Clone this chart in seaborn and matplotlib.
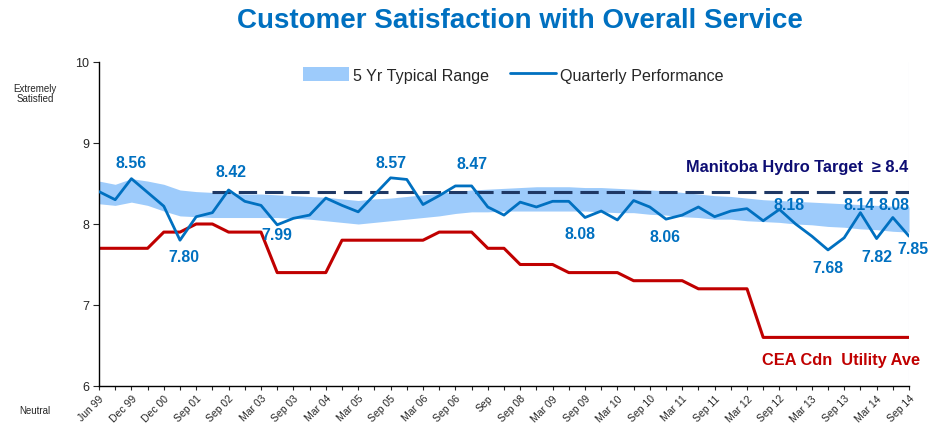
import numpy as np
import pandas as pd
import matplotlib
matplotlib.use('Agg')
import matplotlib.pyplot as plt
from matplotlib.patches import Patch
from matplotlib.lines import Line2D
import seaborn as sns

# --- data ---
period_labels = ['Jun 99', '', 'Dec 99', '', 'Dec 00', '', 'Sep 01', '', 'Sep 02', '',
                 'Mar 03', '', 'Sep 03', '', 'Mar 04', '', 'Mar 05', '', 'Sep 05', '',
                 'Mar 06', '', 'Sep 06', '', 'Sep', '', 'Sep 08', '', 'Mar 09', '',
                 'Sep 09', '', 'Mar 10', '', 'Sep 10', '', 'Mar 11', '', 'Sep 11', '',
                 'Mar 12', '', 'Sep 12', '', 'Mar 13', '', 'Sep 13', '', 'Mar 14', '',
                 'Sep 14']

quarterly = [8.40, 8.30, 8.56, 8.39, 8.22, 7.80, 8.09, 8.14, 8.42, 8.28,
             8.23, 7.99, 8.07, 8.11, 8.32, 8.23, 8.15, 8.36, 8.57, 8.55,
             8.24, 8.35, 8.47, 8.47, 8.21, 8.11, 8.27, 8.21, 8.28, 8.28,
             8.08, 8.16, 8.05, 8.29, 8.21, 8.06, 8.11, 8.21, 8.09, 8.16,
             8.19, 8.04, 8.18, 8.00, 7.85, 7.68, 7.83, 8.14, 7.82, 8.08,
             7.85]

cea_avg = [7.7, 7.7, 7.7, 7.7, 7.9, 7.9, 8.0, 8.0, 7.9, 7.9,
           7.9, 7.4, 7.4, 7.4, 7.4, 7.8, 7.8, 7.8, 7.8, 7.8,
           7.8, 7.9, 7.9, 7.9, 7.7, 7.7, 7.5, 7.5, 7.5, 7.4,
           7.4, 7.4, 7.4, 7.3, 7.3, 7.3, 7.3, 7.2, 7.2, 7.2,
           7.2, 6.6, 6.6, 6.6, 6.6, 6.6, 6.6, 6.6, 6.6, 6.6,
           6.6]

range_high = [8.53, 8.49, 8.56, 8.53, 8.49, 8.42, 8.40, 8.39, 8.38, 8.37,
              8.37, 8.36, 8.35, 8.34, 8.33, 8.31, 8.29, 8.31, 8.32, 8.34,
              8.36, 8.38, 8.40, 8.42, 8.43, 8.44, 8.45, 8.46, 8.46, 8.46,
              8.45, 8.45, 8.44, 8.43, 8.42, 8.41, 8.39, 8.37, 8.35, 8.34,
              8.32, 8.30, 8.29, 8.28, 8.27, 8.26, 8.25, 8.24, 8.23, 8.22,
              8.21]

range_low = [8.25, 8.23, 8.27, 8.23, 8.16, 8.10, 8.09, 8.08, 8.08, 8.08,
             8.08, 8.08, 8.07, 8.06, 8.04, 8.02, 8.00, 8.02, 8.04, 8.06,
             8.08, 8.10, 8.13, 8.15, 8.15, 8.16, 8.16, 8.16, 8.16, 8.16,
             8.16, 8.15, 8.14, 8.14, 8.12, 8.11, 8.09, 8.08, 8.06, 8.06,
             8.04, 8.03, 8.02, 8.00, 7.99, 7.97, 7.96, 7.94, 7.93, 7.91,
             7.90]

target = 8.4
target_start = 7   # index where the target line begins

# points that carry a value label
label_idx = [2, 5, 8, 11, 18, 23, 30, 35, 42, 45, 47, 48, 49, 50]

df = pd.DataFrame({'idx': np.arange(len(quarterly)),
                   'quarterly': quarterly, 'cea': cea_avg,
                   'hi': range_high, 'lo': range_low})

# --- style ---
sns.set_theme(style='white')
plt.rcParams['font.family'] = ['Liberation Sans', 'DejaVu Sans']

BLUE = '#0070C0'
BAND = '#9DCBFB'
RED = '#C00000'
NAVY = '#1F3864'

fig = plt.figure(figsize=(9.32, 4.31), dpi=100)
ax = fig.add_axes([99 / 932, 1 - 387 / 431, 810 / 932, 324 / 431])

ax.fill_between(df['idx'], df['lo'], df['hi'], color=BAND, lw=0, zorder=1)
sns.lineplot(data=df, x='idx', y='cea', ax=ax, color=RED, lw=2.2, zorder=2)
ax.plot([target_start, len(quarterly) - 1], [target, target], color=NAVY,
        lw=2.2, dashes=(6, 2.6), zorder=3)
sns.lineplot(data=df, x='idx', y='quarterly', ax=ax, color=BLUE, lw=2.0, zorder=4)
ax.axvline(len(quarterly) - 1, color='#dbe5f1', lw=0.8, zorder=0)

# value labels (pixel offsets from the point)
offsets = {2: (0, 16), 5: (4, -16), 8: (2, 18), 11: (0, -10), 18: (0, 15),
           23: (0, 22), 30: (-5, -16), 35: (-1, -17), 42: (10, 5), 45: (0, -18),
           47: (-1, 8), 48: (0, -18), 49: (1, 13), 50: (4, -12)}
for i in label_idx:
    dx, dy = offsets[i]
    ax.annotate(f'{quarterly[i]:.2f}', (i, quarterly[i]), xytext=(dx, dy),
                textcoords='offset pixels', ha='center', va='center',
                fontsize=11.4, fontweight='bold', color=BLUE, zorder=5)

ax.set_xlim(0, len(quarterly) - 1)
ax.set_ylim(6, 10)
ax.set_yticks([6, 7, 8, 9, 10])
ax.set_xticks(df['idx'])
ax.set_xticklabels(period_labels, rotation=45, ha='right', rotation_mode='anchor',
                   fontsize=7.5)
ax.tick_params(axis='y', labelsize=9, length=4, width=0.8, direction='out',
               left=True, pad=3)
ax.tick_params(axis='x', length=3, width=0.8, direction='out', bottom=True, pad=2)
ax.set_xlabel('')
ax.set_ylabel('')
for s in ['top', 'right']:
    ax.spines[s].set_visible(False)
for s in ['left', 'bottom']:
    ax.spines[s].set_color('black')
    ax.spines[s].set_linewidth(1.0)

fig.text(520 / 932, 1 - 21 / 431, 'Customer Satisfaction with Overall Service',
         ha='center', va='center', fontsize=20, fontweight='bold', color='#0070C0')
fig.text(35 / 932, 1 - 94 / 431, 'Extremely\nSatisfied', ha='center', va='center',
         fontsize=7, linespacing=1.1)
fig.text(35 / 932, 1 - 411 / 431, 'Neutral', ha='center', va='center', fontsize=7)

ax.text(0.9985, 0.676, 'Manitoba Hydro Target  \u2265 8.4', transform=ax.transAxes,
        ha='right', va='center', fontsize=11.8, fontweight='bold', color='#0D0D73')
ax.text(1.0135, 0.083, 'CEA Cdn  Utility Ave', transform=ax.transAxes,
        ha='right', va='center', fontsize=11.8, fontweight='bold', color=RED)

handles = [Patch(facecolor=BAND, edgecolor='none', label='5 Yr Typical Range'),
           Line2D([], [], color=BLUE, lw=2.0, label='Quarterly Performance')]
ax.legend(handles=handles, loc='center', bbox_to_anchor=(0.511, 0.96), ncol=2,
          frameon=False, fontsize=11.6, handlelength=2.9, handleheight=0.9,
          columnspacing=1.3, handletextpad=0.2)

fig.savefig('out.png', dpi=100)
